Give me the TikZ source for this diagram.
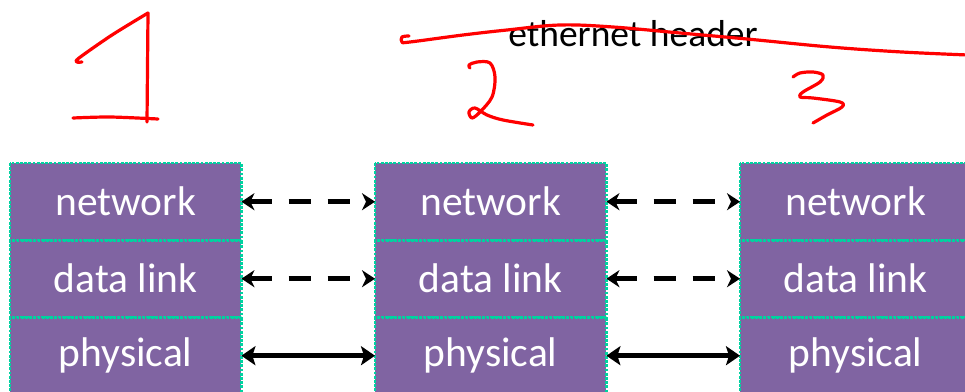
\documentclass[tikz,border=0pt]{standalone}
\usepackage{fontspec}
\setmainfont{Carlito}
\usetikzlibrary{arrows.meta}
\definecolor{layerfill}{RGB}{128,100,162}
\definecolor{layerrim}{RGB}{0,210,160}
\definecolor{ink}{RGB}{255,0,0}
\tikzset{
  layer/.style={fill=layerfill, minimum width=231pt, minimum height=77pt,
    inner sep=0pt, text=white, font=\fontsize{41.5}{45}\selectfont, anchor=north west},
  rim/.style={draw=layerrim, line width=2.8pt, dash pattern=on 2.8pt off 1.4pt},
  peer/.style={line width=5pt, dash pattern=on 22pt off 17pt,
    {Stealth[length=13pt,width=17pt,inset=4pt]}-{Stealth[length=13pt,width=17pt,inset=4pt]}},
  wire/.style={line width=5.5pt,
    {Stealth[length=14pt,width=19pt,inset=3pt]}-{Stealth[length=14pt,width=19pt,inset=3pt]}},
  pen/.style={draw=ink, line width=3.2pt, line cap=round, line join=round}
}
\begin{document}
\begin{tikzpicture}[x=1pt, y=-1pt]
\useasboundingbox (0,0) rectangle (965,391);
\clip (0,0) rectangle (965,391);
\fill[white] (0,0) rectangle (965,391);

% three protocol stacks
\foreach \s/\x in {1/10, 2/375, 3/740} {
  \node[layer] (n\s) at (\x,163) {network};
  \node[layer] (d\s) at (\x,240) {data link};
  \node[layer] (p\s) at (\x,317) {physical};
}
% dotted outlines, drawn over all fills
\foreach \s in {1,2,3} {
  \foreach \l in {n,d,p} {
    \draw[rim] (\l\s.north west) rectangle (\l\s.south east);
  }
}

% peer links between neighbouring stacks
\foreach \a/\b in {1/2, 2/3} {
  \draw[peer] (n\a.east) -- (n\b.west);
  \draw[peer] (d\a.east) -- (d\b.west);
  \draw[wire] (p\a.east) -- (p\b.west);
}

% header label
\node[font=\fontsize{37.5}{40}\selectfont, anchor=base] (hdr) at (633,46) {ethernet header};

% hand-drawn strike through the header
\draw[pen] plot[smooth, tension=0.6] coordinates {
  (409,36) (402,37) (402,42) (410,42) (463,35) (507,30) (560,25)
  (613,27) (680,33) (747,39) (830,47) (902,52) (968,55)};

% hand-drawn numerals
\draw[pen] plot[smooth, tension=0.5] coordinates {
  (82,62) (77,62) (79,58) (112,35) (148,13)};
\draw[pen] (148,13) -- (147,122);
\draw[pen] plot[smooth, tension=0.5] coordinates {(73,118) (110,117) (158,119)};

\draw[pen] plot[smooth, tension=0.55] coordinates {
  (470,68) (469,65) (477,62) (490,63) (495,77) (492,97) (480,112)
  (472,118) (469,112) (475,108) (487,115) (503,120) (533,125)};

\draw[pen] plot[smooth, tension=0.55] coordinates {
  (793,77) (800,73) (813,72) (823,75) (820,82) (803,92) (800,97)
  (813,98) (840,102) (842,107) (827,115) (813,123)};
\end{tikzpicture}
\end{document}
